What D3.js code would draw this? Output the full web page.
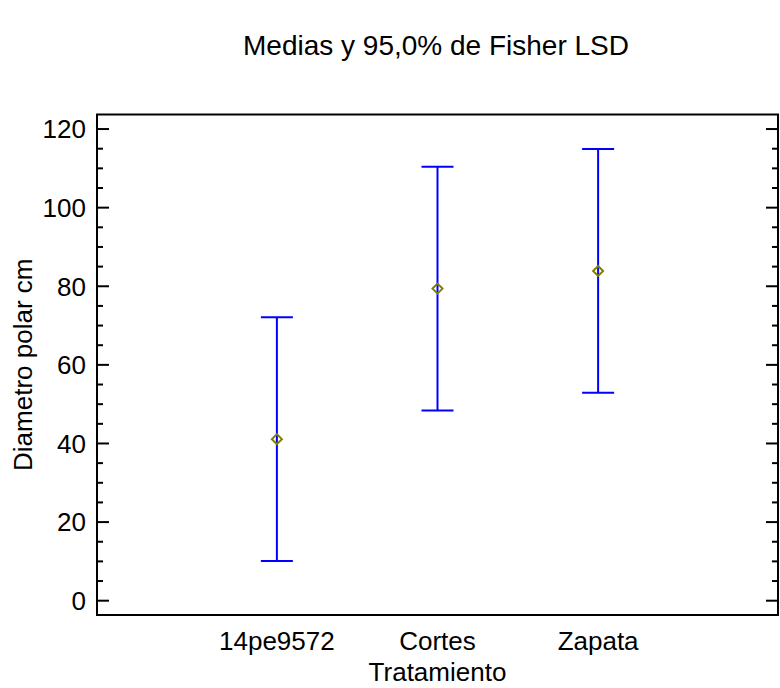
<!DOCTYPE html>
<html><head><meta charset="utf-8">
<script src="https://cdn.jsdelivr.net/npm/d3@7"></script>
<style>body{margin:0;background:#fff}text{font-family:"Liberation Sans",Arial,sans-serif;fill:#000}</style>
</head><body>
<svg id="c" width="780" height="688"></svg>
<script>
const categories = ["14pe9572", "Cortes", "Zapata"];
const means = [41.1, 79.4, 83.9];
const lower = [10.1, 48.4, 52.9];
const upper = [72.1, 110.4, 114.9];
const yTicks = [0, 20, 40, 60, 80, 100, 120];
const yMinor = d3.range(0, 125, 5);
const title = "Medias y 95,0% de Fisher LSD";
const xTitle = "Tratamiento";
const yTitle = "Diametro polar cm";

const svg = d3.select("#c");
const L = 97, R = 778, T = 114.5, B = 615;
const FS = 26;
const x = d3.scalePoint().domain(categories).range([L, R]).padding(1.12);
const y = d3.scaleLinear().domain([-3.64, 123.7]).range([B, T]);

svg.append("rect").attr("x", L).attr("y", T).attr("width", R - L).attr("height", B - T)
  .attr("fill", "none").attr("stroke", "#000").attr("stroke-width", 2);

const g = svg.append("g");
yMinor.forEach(v => {
  const major = yTicks.includes(v);
  const len = major ? 12 : 6;
  g.append("line").attr("x1", L).attr("x2", L + len).attr("y1", y(v)).attr("y2", y(v)).attr("stroke", "#000").attr("stroke-width", 2);
  g.append("line").attr("x1", R).attr("x2", R - len).attr("y1", y(v)).attr("y2", y(v)).attr("stroke", "#000").attr("stroke-width", 2);
});
yTicks.forEach(v => {
  g.append("text").attr("x", L - 11).attr("y", y(v)).attr("dy", "0.36em").attr("text-anchor", "end")
    .attr("font-size", FS).text(v);
});
categories.forEach(c => {
  g.append("text").attr("x", x(c)).attr("y", 650).attr("text-anchor", "middle").attr("font-size", FS).text(c);
});

const capW = 16;
categories.forEach((c, i) => {
  const cx = x(c);
  svg.append("line").attr("x1", cx).attr("x2", cx).attr("y1", y(lower[i])).attr("y2", y(upper[i]))
    .attr("stroke", "#0000ff").attr("stroke-width", 2);
  [lower[i], upper[i]].forEach(v => {
    svg.append("line").attr("x1", cx - capW).attr("x2", cx + capW).attr("y1", y(v)).attr("y2", y(v))
      .attr("stroke", "#0000ff").attr("stroke-width", 2);
  });
  const my = y(means[i]), s = 5;
  svg.append("path").attr("d", `M${cx},${my - s}L${cx + s},${my}L${cx},${my + s}L${cx - s},${my}Z`)
    .attr("fill", "none").attr("stroke", "#808000").attr("stroke-width", 2);
});

svg.append("text").attr("x", 436).attr("y", 55).attr("text-anchor", "middle").attr("font-size", 28).text(title);
svg.append("text").attr("x", (L + R) / 2).attr("y", 681).attr("text-anchor", "middle").attr("font-size", FS).text(xTitle);
svg.append("text").attr("transform", `translate(32,${(T + B) / 2}) rotate(-90)`).attr("text-anchor", "middle").attr("font-size", FS).text(yTitle);
</script>
</body></html>
